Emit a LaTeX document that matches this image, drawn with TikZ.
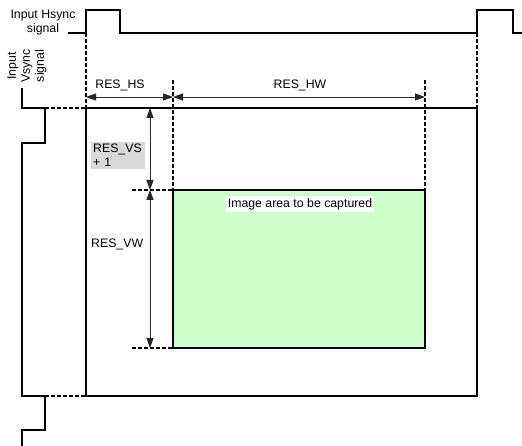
\documentclass[tikz,border=0pt]{standalone}
\usepackage{fontspec}
\setmainfont{Liberation Sans}
\usetikzlibrary{arrows.meta}
\definecolor{areagreen}{RGB}{204,255,204}
\definecolor{labelgray}{RGB}{217,217,217}
\begin{document}
\begin{tikzpicture}[x=1pt,y=-1pt,
  font=\fontsize{12.3}{14}\selectfont,
  sig/.style={line width=1.8pt, line join=miter},
  dsh/.style={line width=1.5pt, dash pattern=on 4pt off 2pt},
  dimline/.style={line width=0.8pt, draw=black!85,
    {Triangle[length=10pt,width=7pt]}-{Triangle[length=10pt,width=7pt]}},
  lbl/.style={inner sep=1pt}]
\useasboundingbox (0,0) rectangle (522,446);
% coordinates
\coordinate (hsL) at (68,33);
\coordinate (hsR) at (522,33);
\coordinate (fTL) at (86,108);
\coordinate (fBR) at (477,396);
\coordinate (fTR) at (477,108);
\coordinate (fBL) at (86,396);
\coordinate (gTL) at (173,190);
\coordinate (gBR) at (425,348);
\coordinate (gTR) at (425,190);
\coordinate (gBL) at (173,348);
\coordinate (h86) at (86,33);
\coordinate (h477) at (477,33);
\coordinate (t173) at (173,80);
\coordinate (t425) at (425,80);
\coordinate (vA) at (45,108);
\coordinate (vB) at (45,396);
\coordinate (dA) at (132,190);
\coordinate (dB) at (132,348);
\coordinate (aHS1) at (86,97);
\coordinate (aHS2) at (173,97);
\coordinate (aHW2) at (425,97);
\coordinate (aV1) at (150,108);
\coordinate (aV2) at (150,190);
\coordinate (aV3) at (150,348);
% green area
\draw[line width=1.6pt, fill=areagreen] (gTL) rectangle (gBR);
% main frame
\draw[sig] (fTL) rectangle (fBR);
% hsync
\draw[sig] (hsL) -| (86,10) -| (120,33) -| (477,10) -| (513,33) -- (hsR);
% vsync
\draw[sig] (22,88) |- (vA) |- (22,143) |- (vB) |- (22,430) -- (22,446);
% dashed guides
\draw[dsh] (h86) -- (fTL);
\draw[dsh] (h477) -- (fTR);
\draw[dsh] (t173) -- (gTL);
\draw[dsh] (t425) -- (gTR);
\draw[dsh] (vA) -- (fTL);
\draw[dsh] (vB) -- (fBL);
\draw[dsh] (dA) -- (gTL);
\draw[dsh] (dB) -- (gBL);
% dimension arrows
\draw[dimline] (aHS1) -- (aHS2);
\draw[dimline] (aHS2) -- (aHW2);
\draw[dimline] (aV1) -- (aV2);
\draw[dimline] (aV2) -- (aV3);
% labels
\node[lbl] (lhs) at (120,85) {RES\_HS};
\node[lbl] (lhw) at (300,85) {RES\_HW};
\node[lbl, fill=labelgray, anchor=north west, align=left, text width=50pt, inner sep=2pt] (lvs) at (91,142) {RES\_VS\\+ 1};
\node[lbl, anchor=west] (lvw) at (90,244) {RES\_VW};
\node[fill=white, inner sep=2pt] (larea) at (300,204) {Image area to be captured};
\node[align=center, inner sep=0pt] (lhsync) at (43,23) {Input Hsync\\signal};
\node[align=center, rotate=90, inner sep=0pt] (lvsync) at (27,66) {Input\\Vsync\\signal};
\end{tikzpicture}
\end{document}
